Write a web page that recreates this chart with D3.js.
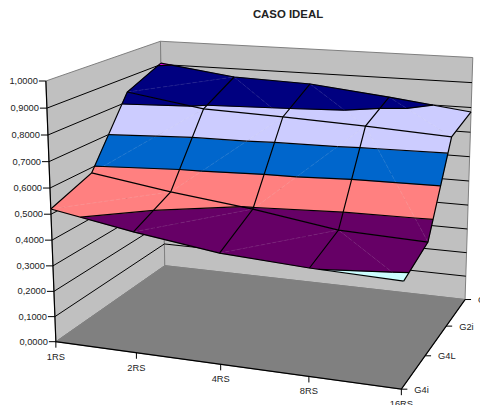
<!DOCTYPE html>
<html lang="pt">
<head>
<meta charset="UTF-8"/>
<title>CASO IDEAL</title>
<script src="https://d3js.org/d3.v7.min.js"></script>
<style>
    body { margin: 0; overflow: hidden; background: #fff; }
    text { font-family: "Liberation Sans", Arial, sans-serif; font-size: 9.3px; fill: #222; }
</style>
</head>
<body>
<script>
    var categories = ["1RS", "2RS", "4RS", "8RS", "16RS"];
    var seriesNames = ["G4i", "G4L", "G2i", "G2L"];
    var valueTicks = [0, 0.1, 0.2, 0.3, 0.4, 0.5, 0.6, 0.7, 0.8, 0.9, 1];

    var g4i = [0.520, 0.465, 0.420, 0.401, 0.391];
    var g4l = [0.579, 0.532, 0.495, 0.446, 0.434];
    var g2i = [0.840, 0.792, 0.782, 0.769, 0.751];
    var g2l = [0.906, 0.865, 0.855, 0.821, 0.782];

    // one colour per 0.1 band, same order as the excel palette
    var bandColors = ["#9999ff", "#993366", "#ffffcc", "#ccffff", "#660066",
                      "#ff8080", "#0066cc", "#ccccff", "#000080", "#ff00ff"];

    // which way each cell of the surface is split, front row first
    var cellSplit = [
        ["/", "/", "/", "\\"],
        ["/", "/", "/", "\\"],
        ["/", "\\", "\\", "\\"]
    ];

    var rows = [g4i, g4l, g2i, g2l];

    var w = 480;
    var h = 405;

    var svg = d3.select("body")
                .append("svg")
                .attr("width", w)
                .attr("height", h);

    var uScale = d3.scalePoint().domain(categories).range([0, 1]);
    var vScale = d3.scalePoint().domain(seriesNames).range([0, 1]);
    var zScale = d3.scaleLinear().domain([0, 1]).range([0, 1]);

    // camera matrix, fitted to the corners of the box in the picture
    var cam = [310.195, 136.813, -11.9701, 55.8737,
               13.2691, -31.0597, -264.159, 341.686,
               -0.087925, 0.16927, -0.0430263];

    function project(p) {
        var d = cam[8] * p[0] + cam[9] * p[1] + cam[10] * p[2] + 1;
        return [(cam[0] * p[0] + cam[1] * p[1] + cam[2] * p[2] + cam[3]) / d,
                (cam[4] * p[0] + cam[5] * p[1] + cam[6] * p[2] + cam[7]) / d];
    }

    var line = d3.line();
    function polyPath(pts) { return line(pts.map(project)) + "Z"; }
    function linePath(pts) { return line(pts.map(project)); }

    // walls and floor
    var boxFaces = [
        {fill: "#c0c0c0", pts: [[0,0,0],[0,1,0],[0,1,1],[0,0,1]]},
        {fill: "#c0c0c0", pts: [[0,1,0],[1,1,0],[1,1,1],[0,1,1]]},
        {fill: "#808080", pts: [[0,0,0],[1,0,0],[1,1,0],[0,1,0]]}
    ];

    svg.selectAll("path.face")
        .data(boxFaces)
        .enter()
        .append("path")
        .attr("class", "face")
        .attr("d", function(d) { return polyPath(d.pts); })
        .attr("fill", function(d) { return d.fill; })
        .attr("stroke", "#808080");

    // gridlines on both walls
    svg.selectAll("path.grid")
        .data(valueTicks.slice(1, -1))
        .enter()
        .append("path")
        .attr("class", "grid")
        .attr("d", function(d) {
            var z = zScale(d);
            return linePath([[0,0,z],[0,1,z],[1,1,z]]);
        })
        .attr("fill", "none")
        .attr("stroke", "#000");

    // front edges
    svg.append("path")
        .attr("d", linePath([[0,0,1],[0,0,0],[1,0,0],[1,1,0]]))
        .attr("fill", "none")
        .attr("stroke", "#000")
        .attr("stroke-width", 1.2);

    // surface, cut into triangles and then into 0.1 bands
    function cutAt(poly, level, keepAbove) {
        var out = [];
        poly.forEach(function(a, i) {
            var b = poly[(i + 1) % poly.length];
            var aIn = keepAbove ? a[2] >= level : a[2] <= level;
            var bIn = keepAbove ? b[2] >= level : b[2] <= level;
            if (aIn) out.push(a);
            if (aIn !== bIn) {
                var t = (level - a[2]) / (b[2] - a[2]);
                out.push([a[0] + t * (b[0] - a[0]), a[1] + t * (b[1] - a[1]), level]);
            }
        });
        return out;
    }

    function pointAt(iu, iv) {
        return [uScale(categories[iu]), vScale(seriesNames[iv]), zScale(rows[iv][iu])];
    }

    var triangles = [];
    var diagonals = [];
    for (var iv = rows.length - 2; iv >= 0; iv--) {
        for (var iu = 0; iu < categories.length - 1; iu++) {
            var a = pointAt(iu, iv), b = pointAt(iu + 1, iv);
            var c = pointAt(iu + 1, iv + 1), e = pointAt(iu, iv + 1);
            if (cellSplit[iv][iu] === "/") {
                triangles.push([a, b, c], [a, c, e]);
                diagonals.push([a, c]);
            } else {
                triangles.push([a, b, e], [b, c, e]);
                diagonals.push([b, e]);
            }
        }
    }

    var pieces = [];
    var contours = [];
    triangles.forEach(function(tri) {
        bandColors.forEach(function(color, k) {
            var lo = k / 10, hi = (k + 1) / 10;
            var poly = cutAt(cutAt(tri, lo, true), hi, false);
            if (poly.length > 2) pieces.push({color: color, pts: poly});
        });
        valueTicks.forEach(function(level) {
            var seg = [];
            tri.forEach(function(a, i) {
                var b = tri[(i + 1) % 3];
                if ((a[2] < level) !== (b[2] < level)) {
                    var t = (level - a[2]) / (b[2] - a[2]);
                    seg.push([a[0] + t * (b[0] - a[0]), a[1] + t * (b[1] - a[1]), level]);
                }
            });
            if (seg.length === 2) contours.push(seg);
        });
    });

    svg.selectAll("path.band")
        .data(pieces)
        .enter()
        .append("path")
        .attr("class", "band")
        .attr("d", function(d) { return polyPath(d.pts); })
        .attr("fill", function(d) { return d.color; })
        .attr("stroke", function(d) { return d.color; })
        .attr("stroke-width", 0.5);

    svg.selectAll("path.diag")
        .data(diagonals)
        .enter()
        .append("path")
        .attr("class", "diag")
        .attr("d", linePath)
        .attr("stroke", "#fff")
        .attr("stroke-opacity", 0.2)
        .attr("stroke-width", 0.5)
        .attr("stroke-dasharray", "4,2");

    svg.selectAll("path.contour")
        .data(contours)
        .enter()
        .append("path")
        .attr("class", "contour")
        .attr("d", linePath)
        .attr("stroke", "#000")
        .attr("stroke-width", 1.2);

    // mesh lines along rows and columns
    var meshLines = rows.map(function(r, iv) {
        return r.map(function(d, iu) { return pointAt(iu, iv); });
    }).concat(categories.map(function(d, iu) {
        return rows.map(function(r, iv) { return pointAt(iu, iv); });
    }));

    svg.selectAll("path.mesh")
        .data(meshLines)
        .enter()
        .append("path")
        .attr("class", "mesh")
        .attr("d", linePath)
        .attr("fill", "none")
        .attr("stroke", "#000")
        .attr("stroke-width", 1.2);

    // value axis
    var fmt = d3.format(".4f");
    var yTick = svg.selectAll("g.ytick")
        .data(valueTicks)
        .enter()
        .append("g")
        .attr("class", "ytick")
        .attr("transform", function(d) {
            return "translate(" + project([0, 0, zScale(d)]) + ")";
        });
    yTick.append("line").attr("x1", -7).attr("x2", 0).attr("stroke", "#000");
    yTick.append("text")
        .attr("x", -8)
        .attr("y", 3)
        .attr("text-anchor", "end")
        .text(function(d) { return fmt(d).replace(".", ","); });

    // category axis
    var xTick = svg.selectAll("g.xtick")
        .data(categories)
        .enter()
        .append("g")
        .attr("class", "xtick")
        .attr("transform", function(d) {
            return "translate(" + project([uScale(d), 0, 0]) + ")";
        });
    xTick.append("line").attr("y2", 6).attr("stroke", "#000");
    xTick.append("text")
        .attr("y", 18)
        .attr("text-anchor", "middle")
        .text(function(d) { return d; });

    // series axis
    var zTick = svg.selectAll("g.ztick")
        .data(seriesNames)
        .enter()
        .append("g")
        .attr("class", "ztick")
        .attr("transform", function(d) {
            return "translate(" + project([1, vScale(d), 0]) + ")";
        });
    zTick.append("line").attr("x2", 6).attr("stroke", "#000");
    zTick.append("text")
        .attr("x", 13)
        .attr("y", 3.5)
        .text(function(d) { return d; });

    svg.append("text")
        .attr("x", 288)
        .attr("y", 18)
        .attr("text-anchor", "middle")
        .style("font-weight", "bold")
        .style("font-size", "11.4px")
        .text("CASO IDEAL");
</script>
</body>
</html>
